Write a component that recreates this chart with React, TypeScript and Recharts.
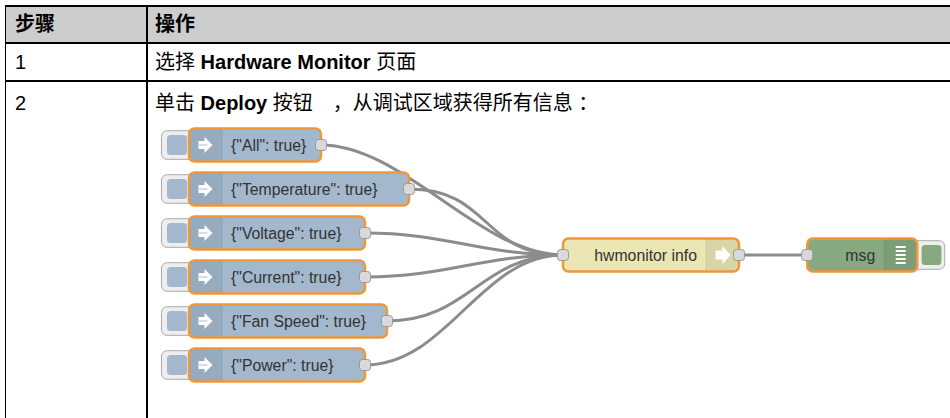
import React from 'react'
import { ScatterChart, Scatter, XAxis, YAxis } from 'recharts'

// table content
const headerLabels = ['步骤', '操作']
const stepNumbers = ['1', '2']
// [plain, bold, plain]
const stepTexts = [
  ['选择 ', 'Hardware Monitor', ' 页面'],
  ['单击 ', 'Deploy', ' 按钮　，从调试区域获得所有信息 ：'],
]

// flow nodes, in Node-RED canvas units (left edge x, centre y)
const injectLabels = [
  '{"All": true}',
  '{"Temperature": true}',
  '{"Voltage": true}',
  '{"Current": true}',
  '{"Fan Speed": true}',
  '{"Power": true}',
]
const injectX = [100, 100, 100, 100, 100, 100]
const injectY = [40, 80, 120, 160, 200, 240]
const functionLabels = ['hwmonitor info']
const functionX = [440]
const functionY = [140]
const debugLabels = ['msg']
const debugX = [662]
const debugY = [140]

const FONT = '"Liberation Sans", Arial, "Noto Sans CJK SC", sans-serif'
const NODE_H = 33
const RAD = 5.5
const LABEL_SIZE = 15.8
const BORDER = '#f0973a'
const PORT_FILL = '#d9d9d9'
const WIRE = '#8c8c8c'

let ctx: CanvasRenderingContext2D | null = null
function textWidth(s: string) {
  if (!ctx) ctx = document.createElement('canvas').getContext('2d')
  if (!ctx) return s.length * 7
  ctx.font = '14px "Liberation Sans", Arial, sans-serif'
  ;(ctx as any).fontKerning = 'none'
  return ctx.measureText(s).width
}

// Node-RED sizing rule: grid of 20, min 100
function nodeWidth(label: string, hasInput: boolean) {
  const w = textWidth(label) + 51 + (hasInput ? 7 : 0)
  return Math.max(100, 20 * Math.ceil(w / 20))
}

// Node-RED style wire: horizontal tangents, fixed handle length
const nodeRedCurve = (context: any) => {
  let pts: [number, number][] = []
  return {
    areaStart() {},
    areaEnd() {},
    lineStart() {
      pts = []
    },
    lineEnd() {
      if (!pts.length) return
      context.moveTo(pts[0][0], pts[0][1])
      for (let i = 1; i < pts.length; i++) {
        const [x0, y0] = pts[i - 1]
        const [x1, y1] = pts[i]
        const delta = Math.hypot(x1 - x0, y1 - y0)
        let s = 0.75
        if (delta < 110) s = 0.75 - 0.75 * ((110 - delta) / 110)
        const d = s * 110
        context.bezierCurveTo(x0 + d, y0, x1 - d, y1, x1, y1)
      }
    },
    point(x: number, y: number) {
      pts.push([x, y])
    },
  }
}

const noSymbol = () => <g />

function leftShade(L: number, top: number, w: number) {
  return `M${L + RAD},${top} H${L + w} V${top + NODE_H} H${L + RAD} A${RAD},${RAD} 0 0 1 ${L},${top + NODE_H - RAD} V${top + RAD} A${RAD},${RAD} 0 0 1 ${L + RAD},${top} Z`
}

function rightShade(R: number, top: number, w: number) {
  return `M${R - w},${top} H${R - RAD} A${RAD},${RAD} 0 0 1 ${R},${top + RAD} V${top + NODE_H - RAD} A${RAD},${RAD} 0 0 1 ${R - RAD},${top + NODE_H} H${R - w} Z`
}

function Port({ x, y }: { x: number; y: number }) {
  return <rect x={x - 5.5} y={y - 5.5} width={11} height={11} rx={3} fill={PORT_FILL} stroke="#999" strokeWidth={1} />
}

function InjectNode({ points, label }: any) {
  const [a, b] = points
  const L = a.x
  const R = b.x
  const cy = a.y
  const top = cy - NODE_H / 2
  const ix = L + 16.5
  return (
    <g>
      <rect x={L - 27.5} y={top + 2.2} width={35} height={28.6} rx={5.5} fill="#eeeeee" stroke="#aaaaaa" />
      <rect x={L - 22} y={top + 6.6} width={20} height={19.8} rx={3.5} fill="#a3b8cd" />
      <rect x={L} y={top} width={R - L} height={NODE_H} rx={RAD} fill="#a3b8cd" />
      <path d={leftShade(L, top, 33)} fill="rgba(0,0,0,0.07)" />
      <line x1={L + 33} x2={L + 33} y1={top} y2={top + NODE_H} stroke="rgba(0,0,0,0.08)" />
      <path
        d={`M${ix - 7},${cy - 4} H${ix - 1} V${cy - 8} L${ix + 7},${cy} L${ix - 1},${cy + 8} V${cy + 4} H${ix - 7} Z`}
        fill="#ffffff"
      />
      <line x1={ix - 7} x2={ix + 2} y1={cy} y2={cy} stroke="#c9d5e1" strokeWidth={1.5} />
      <text x={L + 42} y={cy} dominantBaseline="central" fontSize={LABEL_SIZE} fill="#333" fontFamily={FONT}>
        {label}
      </text>
      <rect x={L} y={top} width={R - L} height={NODE_H} rx={RAD} fill="none" stroke={BORDER} strokeWidth={2.5} />
      <Port x={R} y={cy} />
    </g>
  )
}

function FunctionNode({ points, label }: any) {
  const [a, b] = points
  const L = a.x
  const R = b.x
  const cy = a.y
  const top = cy - NODE_H / 2
  const ix = R - 16.5
  return (
    <g>
      <rect x={L} y={top} width={R - L} height={NODE_H} rx={RAD} fill="#ebe6b4" />
      <path d={rightShade(R, top, 33)} fill="rgba(0,0,0,0.07)" />
      <line x1={R - 33} x2={R - 33} y1={top} y2={top + NODE_H} stroke="rgba(0,0,0,0.08)" />
      <path
        d={`M${ix - 7},${cy - 4.5} H${ix} V${cy - 9} L${ix + 8},${cy} L${ix},${cy + 9} V${cy + 4.5} H${ix - 7} Z`}
        fill="#ffffff"
      />
      <text x={R - 42} y={cy} dominantBaseline="central" textAnchor="end" fontSize={LABEL_SIZE} fill="#333" fontFamily={FONT}>
        {label}
      </text>
      <rect x={L} y={top} width={R - L} height={NODE_H} rx={RAD} fill="none" stroke={BORDER} strokeWidth={2.5} />
      <Port x={L} y={cy} />
      <Port x={R} y={cy} />
    </g>
  )
}

function DebugNode({ points, label }: any) {
  const [a, b] = points
  const L = a.x
  const R = b.x
  const cy = a.y
  const top = cy - NODE_H / 2
  const ix = R - 16.5
  return (
    <g>
      <rect x={R - 7.7} y={top + 2.2} width={35.2} height={28.6} rx={5.5} fill="#eeeeee" stroke="#aaaaaa" />
      <rect x={R + 4.4} y={top + 6.6} width={19.8} height={19.8} rx={3.5} fill="#87a980" />
      <rect x={L} y={top} width={R - L} height={NODE_H} rx={RAD} fill="#87a980" />
      <path d={rightShade(R, top, 33)} fill="rgba(0,0,0,0.07)" />
      <line x1={R - 33} x2={R - 33} y1={top} y2={top + NODE_H} stroke="rgba(0,0,0,0.08)" />
      {[0, 1, 2, 3, 4].map((k) => (
        <rect key={k} x={ix - 5} y={cy - 9 + k * 4} width={10} height={2} fill="#ffffff" />
      ))}
      <text x={R - 42} y={cy} dominantBaseline="central" textAnchor="end" fontSize={LABEL_SIZE} fill="#333" fontFamily={FONT}>
        {label}
      </text>
      <rect x={L} y={top} width={R - L} height={NODE_H} rx={RAD} fill="none" stroke={BORDER} strokeWidth={2.5} />
      <Port x={L} y={cy} />
    </g>
  )
}

function FlowChart() {
  const injects = injectLabels.map((label, i) => ({
    label,
    data: [
      { x: injectX[i], y: injectY[i] },
      { x: injectX[i] + nodeWidth(label, false), y: injectY[i] },
    ],
  }))
  const functions = functionLabels.map((label, i) => ({
    label,
    data: [
      { x: functionX[i], y: functionY[i] },
      { x: functionX[i] + nodeWidth(label, true), y: functionY[i] },
    ],
  }))
  const debugs = debugLabels.map((label, i) => ({
    label,
    data: [
      { x: debugX[i], y: debugY[i] },
      { x: debugX[i] + nodeWidth(label, true), y: debugY[i] },
    ],
  }))
  const wires = injects.map((n) => [n.data[1], functions[0].data[0]])
  wires.push([functions[0].data[1], debugs[0].data[0]])

  return (
    <ScatterChart width={803} height={297} margin={{ top: 0, right: 0, bottom: 0, left: 0 }}>
      <XAxis type="number" dataKey="x" domain={[60, 790]} hide allowDataOverflow />
      <YAxis type="number" dataKey="y" domain={[10, 280]} hide reversed allowDataOverflow />
      {wires.map((w, i) => (
        <Scatter
          key={`w${i}`}
          data={w}
          shape={noSymbol}
          line={{ stroke: WIRE, strokeWidth: 3 }}
          lineType="joint"
          lineJointType={nodeRedCurve as any}
          isAnimationActive={false}
        />
      ))}
      {injects.map((n, i) => (
        <Scatter
          key={`i${i}`}
          data={n.data}
          shape={noSymbol}
          line={(p: any) => <InjectNode points={p.points} label={n.label} />}
          lineType="joint"
          isAnimationActive={false}
        />
      ))}
      {functions.map((n, i) => (
        <Scatter
          key={`f${i}`}
          data={n.data}
          shape={noSymbol}
          line={(p: any) => <FunctionNode points={p.points} label={n.label} />}
          lineType="joint"
          isAnimationActive={false}
        />
      ))}
      {debugs.map((n, i) => (
        <Scatter
          key={`d${i}`}
          data={n.data}
          shape={noSymbol}
          line={(p: any) => <DebugNode points={p.points} label={n.label} />}
          lineType="joint"
          isAnimationActive={false}
        />
      ))}
    </ScatterChart>
  )
}

const line = (style: React.CSSProperties) => (
  <div style={{ position: 'absolute', background: '#000', ...style }} />
)

export default function App() {
  const rows = [
    { top: 43, height: 38 },
    { top: 81, height: 44 },
  ]
  return (
    <div
      style={{
        position: 'relative',
        width: 950,
        height: 418,
        overflow: 'hidden',
        background: '#fff',
        fontFamily: FONT,
        fontSize: 20,
        color: '#000',
      }}
    >
      <style>{'body{margin:0}'}</style>
      <div style={{ position: 'absolute', left: 5, top: 6, width: 945, height: 37, background: '#cdcdcd' }} />
      {line({ left: 4.5, top: 5.25, width: 946, height: 1.5 })}
      {line({ left: 4.5, top: 42, width: 946, height: 1.5 })}
      {line({ left: 4.5, top: 80.25, width: 946, height: 1.5 })}
      {line({ left: 4.5, top: 5.25, width: 1.5, height: 420 })}
      {line({ left: 146.25, top: 5.25, width: 1.5, height: 420 })}

      {headerLabels.map((h, i) => (
        <div
          key={h}
          style={{ position: 'absolute', left: i === 0 ? 15 : 155, top: 6, height: 37, lineHeight: '37px', fontWeight: 700 }}
        >
          {h}
        </div>
      ))}
      {stepNumbers.map((n, i) => (
        <React.Fragment key={n}>
          <div style={{ position: 'absolute', left: 15, top: rows[i].top, height: rows[i].height, lineHeight: `${rows[i].height}px` }}>
            {n}
          </div>
          <div
            style={{
              position: 'absolute',
              left: 155,
              top: rows[i].top,
              height: rows[i].height,
              lineHeight: `${rows[i].height}px`,
              whiteSpace: 'pre',
            }}
          >
            {stepTexts[i][0]}
            <b>{stepTexts[i][1]}</b>
            {stepTexts[i][2]}
          </div>
        </React.Fragment>
      ))}

      <div style={{ position: 'absolute', left: 145, top: 112 }}>
        <FlowChart />
      </div>
    </div>
  )
}
